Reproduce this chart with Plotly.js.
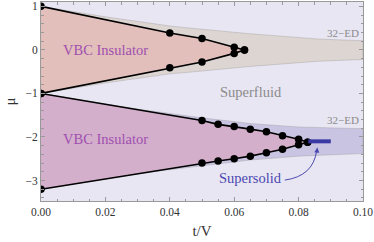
<!DOCTYPE html>
<html><head><meta charset="utf-8">
<script src="https://cdn.plot.ly/plotly-3.0.1.min.js"></script>
<style>html,body{margin:0;padding:0;background:#fff}#chart{width:374px;height:242px}</style>
</head><body><div id="chart"></div>
<script>
// Upper 32-ED band (gray)
const bandUpTopX = [0, 0.02, 0.04, 0.045, 0.065, 0.086, 0.1];
const bandUpTopY = [1, 0.76, 0.55, 0.51, 0.37, 0.25, 0.21];
const bandUpBotY = [-1, -0.76, -0.55, -0.52, -0.38, -0.26, -0.22];
// Lower 32-ED band (blue)
const bandLoX = [0, 0.03, 0.05, 0.065, 0.08, 0.1];
const bandLoTopY = [-1, -1.36, -1.56, -1.69, -1.77, -1.81];
const bandLoBotY = [-3.2, -2.84, -2.66, -2.53, -2.44, -2.38];
// Upper VBC lobe
const lobeUpX = [0, 0.04, 0.05, 0.06, 0.0632];
const lobeUpTop = [1, 0.39, 0.26, 0.06, 0.0];
const lobeUpBot = [-1, -0.41, -0.28, -0.08, 0.0];
// Lower VBC lobe
const lobeLoX = [0, 0.05, 0.055, 0.06, 0.065, 0.07, 0.075, 0.08, 0.0828];
const lobeLoTop = [-1, -1.62, -1.71, -1.76, -1.82, -1.88, -1.97, -2.05, -2.12];
const lobeLoBot = [-3.2, -2.6, -2.55, -2.5, -2.44, -2.36, -2.28, -2.18, -2.12];
// Supersolid segment
const ssX = [0.083, 0.09];
const ssY = [-2.1, -2.1];

function poly(x, top, bot) {
  return {x: x.concat(x.slice().reverse()), y: top.concat(bot.slice().reverse())};
}
const pBU = poly(bandUpTopX, bandUpTopY, bandUpBotY);
const pBL = poly(bandLoX, bandLoTopY, bandLoBotY);
const pLU = poly(lobeUpX, lobeUpTop, lobeUpBot);
const pLL = poly(lobeLoX, lobeLoTop, lobeLoBot);

const fillTrace = (p, col) => ({x: p.x, y: p.y, type: 'scatter', mode: 'lines', fill: 'toself',
  fillcolor: col, line: {width: 0.6, color: 'rgba(150,150,150,0.6)'}, hoverinfo: 'skip', showlegend: false});
const fillTrace2 = (p, col) => ({x: p.x, y: p.y, type: 'scatter', mode: 'lines', fill: 'toself',
  fillcolor: col, line: {width: 0}, hoverinfo: 'skip', showlegend: false});
const lineTrace = (x, y) => ({x: x, y: y, type: 'scatter', mode: 'lines+markers',
  line: {color: '#000', width: 1.6}, marker: {color: '#000', size: 7.5}, showlegend: false});

const traces = [
  fillTrace(pBU, '#dcd5d1'),
  fillTrace(pBL, '#c9c4e2'),
  fillTrace2(pLU, '#e2bfba'),
  fillTrace2(pLL, '#d3afcb'),
  lineTrace(lobeUpX, lobeUpTop),
  lineTrace(lobeUpX, lobeUpBot),
  lineTrace(lobeLoX, lobeLoTop),
  lineTrace(lobeLoX, lobeLoBot),
  {x: ssX, y: ssY, type: 'scatter', mode: 'lines', line: {color: '#3b3aa5', width: 4}, showlegend: false}
];

const serif = 'Liberation Serif, Times New Roman, serif';
const arrowCol = '#4a48b0';
const layout = {
  width: 374, height: 242,
  margin: {l: 40.5, r: 11, t: 2, b: 41},
  paper_bgcolor: '#ffffff',
  plot_bgcolor: '#e9e6f3',
  showlegend: false,
  font: {family: serif, color: '#333', size: 11.5},
  xaxis: {
    range: [0, 0.1], dtick: 0.02, tickformat: '.2f',
    ticks: 'inside', ticklen: 4, tickcolor: '#999', mirror: 'allticks',
    showline: true, linecolor: '#999', linewidth: 1, showgrid: false, zeroline: false,
    minor: {dtick: 0.005, ticks: 'inside', ticklen: 2.5, tickcolor: '#999', showgrid: false},
    tickfont: {family: serif, size: 11.5, color: '#333'},
    title: {text: 't/V', font: {family: serif, size: 15, color: '#333'}, standoff: 8}
  },
  yaxis: {
    range: [-3.47, 1.1], dtick: 1,
    ticks: 'inside', ticklen: 4, tickcolor: '#999', mirror: 'allticks',
    showline: true, linecolor: '#999', linewidth: 1, showgrid: false, zeroline: false,
    minor: {dtick: 0.2, ticks: 'inside', ticklen: 2.5, tickcolor: '#999', showgrid: false},
    tickfont: {family: serif, size: 11.5, color: '#333'},
    title: {text: 'μ', font: {family: serif, size: 15, color: '#333'}, standoff: 6}
  },
  shapes: [
    {type: 'path', xref: 'x', yref: 'y', path: 'M 0.0757 -2.99 Q 0.0845 -2.9 0.0856 -2.32',
     line: {color: arrowCol, width: 1}}
  ],
  annotations: [
    {x: 0.0199, y: 0, text: 'VBC Insulator', showarrow: false, font: {family: serif, size: 14.5, color: '#a04fb0'}},
    {x: 0.0199, y: -2.05, text: 'VBC Insulator', showarrow: false, font: {family: serif, size: 14.5, color: '#a04fb0'}},
    {x: 0.0652, y: -0.97, text: 'Superfluid', showarrow: false, font: {family: serif, size: 14.5, color: '#8a8a8a'}},
    {x: 0.0995, y: 0.38, xanchor: 'right', text: '32−ED', showarrow: false, font: {family: serif, size: 11, color: '#8a8a8a'}},
    {x: 0.0995, y: -1.6, xanchor: 'right', text: '32−ED', showarrow: false, font: {family: serif, size: 11, color: '#8a8a8a'}},
    {x: 0.0858, y: -2.24, ax: 0.0856, ay: -2.4, axref: 'x', ayref: 'y', text: '', showarrow: true,
     arrowhead: 2, arrowsize: 1, arrowwidth: 1, arrowcolor: arrowCol},
    {x: 0.0652, y: -2.95, text: 'Supersolid', showarrow: false, font: {family: serif, size: 14.5, color: arrowCol}}
  ]
};
Plotly.newPlot('chart', traces, layout, {staticPlot: true, displayModeBar: false});
</script></body></html>
